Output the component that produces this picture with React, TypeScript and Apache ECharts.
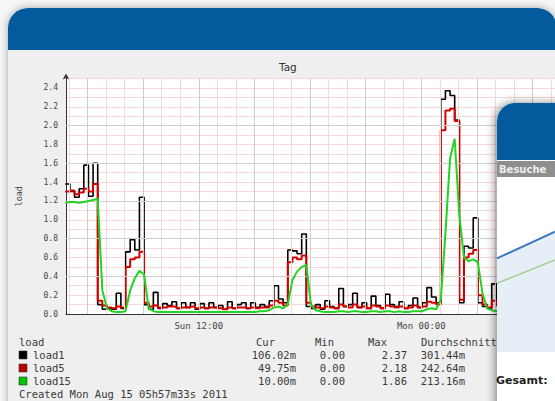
import React, { useEffect, useRef } from 'react';
import * as echarts from 'echarts';

// time sampling of the munin "Tag" graph (hours since Sunday 00:00)
const startHour = 4.8;
const stepHours = 0.25;

const load1 = [
  1.38, 1.30, 1.24, 1.33, 1.58, 1.25, 1.60, 0.10, 0.05, 0.06,
  0.05, 0.22, 0.06, 0.66, 0.79, 0.68, 1.24, 0.10, 0.05, 0.23,
  0.06, 0.11, 0.09, 0.13, 0.06, 0.12, 0.07, 0.12, 0.05, 0.11,
  0.06, 0.12, 0.07, 0.09, 0.05, 0.13, 0.06, 0.10, 0.12, 0.06,
  0.12, 0.07, 0.10, 0.08, 0.14, 0.30, 0.16, 0.12, 0.68, 0.67,
  0.64, 0.85, 0.08, 0.06, 0.10, 0.05, 0.14, 0.08, 0.06, 0.27,
  0.08, 0.10, 0.22, 0.07, 0.12, 0.06, 0.19, 0.09, 0.06, 0.21,
  0.10, 0.08, 0.13, 0.06, 0.09, 0.17, 0.07, 0.12, 0.28, 0.18,
  0.12, 2.28, 2.37, 2.32, 2.06, 0.12, 0.72, 0.70, 1.02, 0.12,
  0.08, 0.06, 0.32, 0.10, 0.08, 0.12, 0.06,
];

const load5 = [
  1.30, 1.31, 1.27, 1.29, 1.33, 1.30, 1.38, 0.14, 0.09, 0.07,
  0.06, 0.08, 0.07, 0.50, 0.58, 0.60, 0.66, 0.12, 0.08, 0.09,
  0.07, 0.07, 0.08, 0.08, 0.06, 0.07, 0.07, 0.08, 0.06, 0.07,
  0.06, 0.07, 0.07, 0.06, 0.05, 0.07, 0.06, 0.07, 0.07, 0.06,
  0.07, 0.06, 0.07, 0.07, 0.09, 0.14, 0.12, 0.09, 0.55, 0.60,
  0.58, 0.62, 0.12, 0.08, 0.07, 0.06, 0.08, 0.07, 0.06, 0.10,
  0.08, 0.07, 0.10, 0.07, 0.08, 0.06, 0.09, 0.08, 0.06, 0.09,
  0.08, 0.07, 0.08, 0.06, 0.07, 0.09, 0.07, 0.08, 0.13, 0.12,
  0.10, 1.95, 2.16, 2.18, 2.05, 0.15, 0.60, 0.64, 0.68, 0.20,
  0.10, 0.07, 0.14, 0.09, 0.07, 0.08, 0.06,
];

const load15 = [
  1.18, 1.19, 1.19, 1.18, 1.19, 1.20, 1.21, 1.22, 0.25, 0.06,
  0.03, 0.02, 0.02, 0.03, 0.25, 0.38, 0.46, 0.42, 0.06, 0.03,
  0.02, 0.02, 0.02, 0.02, 0.02, 0.02, 0.02, 0.02, 0.02, 0.02,
  0.02, 0.02, 0.02, 0.02, 0.02, 0.02, 0.02, 0.02, 0.02, 0.02,
  0.02, 0.02, 0.03, 0.03, 0.04, 0.07, 0.08, 0.06, 0.10, 0.36,
  0.45, 0.50, 0.52, 0.10, 0.04, 0.03, 0.02, 0.02, 0.02, 0.03,
  0.03, 0.02, 0.03, 0.03, 0.02, 0.02, 0.03, 0.03, 0.02, 0.03,
  0.03, 0.02, 0.03, 0.02, 0.02, 0.03, 0.03, 0.03, 0.05, 0.06,
  0.05, 0.15, 0.85, 1.65, 1.86, 1.05, 0.60, 0.56, 0.58, 0.55,
  0.22, 0.06, 0.04, 0.03, 0.03, 0.02, 0.02,
];

const xMin = 4.84;
const xMax = 31.21;
const xTickValues = [12, 24];
const xTickLabels = ['Sun 12:00', 'Mon 00:00'];
const hourLines = [5, 6, 7, 8, 9, 10, 11, 12, 13, 14, 15, 16, 17, 18, 19, 20, 21, 22, 23, 24, 25, 26, 27, 28, 29, 30, 31];
const majorHourLines = [6, 9, 12, 15, 18, 21, 24, 27, 30];
const majorLoadLines = [0.4, 0.8, 1.2, 1.6, 2.0];

const legendNames = ['load1', 'load5', 'load15'];
const legendColors = ['#000000', '#b80000', '#00c400'];
const curValues = ['106.02m', '49.75m', '10.00m'];
const minValues = ['0.00', '0.00', '0.00'];
const maxValues = ['2.37', '2.18', '1.86'];
const avgValues = ['301.44m', '242.64m', '213.16m'];
const createdText = 'Created Mon Aug 15 05h57m33s 2011';

const miniX = [0, 1];
const miniBlue = [57.8, 74.3];
const miniGreen = [42.4, 56.8];

const toPairs = (arr: number[]) => arr.map((v, i) => [startHour + i * stepHours, v]);

const MONO = '"DejaVu Sans Mono", monospace';
const SANS = '"DejaVu Sans", sans-serif';

export default function App() {
  const ref = useRef<HTMLDivElement>(null);

  useEffect(() => {
    if (!ref.current) return;
    const chart = echarts.init(ref.current, undefined, { renderer: 'svg' });

    const rowY = [355, 368, 381];
    const legendGraphics: any[] = [];
    const txt = (text: string, x: number, y: number, align: string, extra: any = {}) => ({
      type: 'text',
      z: 5,
      style: {
        text,
        x,
        y,
        font: `10.5px ${MONO}`,
        fill: '#3a3a3a',
        textAlign: align,
        textVerticalAlign: 'middle',
        ...extra,
      },
    });
    legendGraphics.push(txt('load', 19, 342, 'left'));
    legendGraphics.push(txt('Cur', 256, 342, 'left'));
    legendGraphics.push(txt('Min', 315, 342, 'left'));
    legendGraphics.push(txt('Max', 368, 342, 'left'));
    legendGraphics.push(txt('Durchschnitt', 421, 342, 'left'));
    legendNames.forEach((n, k) => {
      legendGraphics.push({
        type: 'rect',
        z: 5,
        shape: { x: 19, y: rowY[k] - 4, width: 8, height: 8 },
        style: { fill: legendColors[k], stroke: '#333', lineWidth: 0.6 },
      });
      legendGraphics.push(txt(n, 33, rowY[k], 'left'));
      legendGraphics.push(txt(curValues[k], 296, rowY[k], 'right'));
      legendGraphics.push(txt(minValues[k], 345, rowY[k], 'right'));
      legendGraphics.push(txt(maxValues[k], 407, rowY[k], 'right'));
      legendGraphics.push(txt(avgValues[k], 465, rowY[k], 'right'));
    });
    legendGraphics.push(txt(createdText, 19, 394, 'left'));

    const gridLineData: any[] = [
      ...hourLines.map((h) => ({ xAxis: h, lineStyle: { color: '#f6d8d8', width: 1, type: 'solid' } })),
      ...majorHourLines.map((h) => ({ xAxis: h, lineStyle: { color: '#cdcdcd', width: 1, type: 'solid' } })),
      ...majorLoadLines.map((v) => ({ yAxis: v, lineStyle: { color: '#cfcfcf', width: 1, type: 'solid' } })),
    ];

    chart.setOption({
      animation: false,
      backgroundColor: '#f7f7f7',
      title: {
        text: 'Tag',
        left: 274,
        top: 56,
        textStyle: { fontFamily: SANS, fontSize: 10.5, fontWeight: 'normal', color: '#333' },
      },
      graphic: [
        {
          type: 'rect',
          z: -9,
          shape: { x: 8, y: 8, width: 549, height: 430, r: [20, 20, 0, 0] },
          style: { fill: '#efefef', shadowBlur: 8, shadowColor: 'rgba(0,0,0,0.35)' },
        },
        {
          type: 'rect',
          z: -8,
          shape: { x: 8, y: 8, width: 549, height: 42, r: [20, 20, 0, 0] },
          style: { fill: '#035a9c' },
        },
        ...legendGraphics,
        {
          type: 'rect',
          z: 10,
          shape: { x: 497, y: 103, width: 80, height: 330, r: [18, 0, 0, 0] },
          style: { fill: '#ffffff', shadowBlur: 10, shadowOffsetX: -2, shadowColor: 'rgba(0,0,0,0.45)' },
        },
        {
          type: 'rect',
          z: 11,
          shape: { x: 497, y: 103, width: 80, height: 57, r: [18, 0, 0, 0] },
          style: { fill: '#035a9c' },
        },
        {
          type: 'rect',
          z: 11,
          shape: { x: 497, y: 161, width: 80, height: 16 },
          style: { fill: '#8e8e8e' },
        },
        {
          type: 'text',
          z: 12,
          style: {
            text: 'Besuche',
            x: 499,
            y: 169,
            font: `bold 10px ${SANS}`,
            fill: '#eeeeee',
            textAlign: 'left',
            textVerticalAlign: 'middle',
          },
        },
        {
          type: 'text',
          z: 12,
          style: {
            text: 'Gesamt:',
            x: 496,
            y: 380,
            font: `bold 11px ${SANS}`,
            fill: '#222',
            textAlign: 'left',
            textVerticalAlign: 'middle',
          },
        },
      ],
      grid: [
        { left: 66, top: 78.5, width: 490, height: 235.5, show: true, backgroundColor: '#ffffff', borderWidth: 0 },
        { left: 497, top: 190, width: 58, height: 162, show: false },
      ],
      xAxis: [
        {
          type: 'value',
          gridIndex: 0,
          min: xMin,
          max: xMax,
          splitLine: { show: false },
          axisTick: { show: false },
          axisLine: { show: true, onZero: false, lineStyle: { color: '#333', width: 1 } },
          axisLabel: {
            customValues: xTickValues,
            formatter: (v: number) => {
              const k = xTickValues.indexOf(Math.round(v));
              return k >= 0 ? xTickLabels[k] : '';
            },
            fontFamily: MONO,
            fontSize: 9,
            color: '#444',
            margin: 7,
          },
        },
        { type: 'value', gridIndex: 1, min: 0, max: 1, show: false },
      ],
      yAxis: [
        {
          type: 'value',
          gridIndex: 0,
          min: 0,
          max: 2.5,
          interval: 0.1,
          name: 'load',
          nameLocation: 'middle',
          nameGap: 43,
          nameRotate: 90,
          nameTextStyle: { fontFamily: MONO, fontSize: 8.5, color: '#444' },
          splitLine: { show: true, lineStyle: { color: '#f6d8d8', width: 1 } },
          axisLine: {
            show: true,
            lineStyle: { color: '#333', width: 1 },
            symbol: ['none', 'arrow'],
            symbolSize: [5, 6],
            symbolOffset: [0, 5],
          },
          axisTick: { show: false },
          axisLabel: {
            formatter: (v: number) => {
              const t = Math.round(v * 10);
              return t % 2 === 0 && t <= 24 ? (t / 10).toFixed(1) : '';
            },
            fontFamily: MONO,
            fontSize: 8,
            color: '#444',
            margin: 8,
          },
        },
        { type: 'value', gridIndex: 1, min: 0, max: 100, show: false },
      ],
      series: [
        {
          type: 'line',
          name: 'grid',
          xAxisIndex: 0,
          yAxisIndex: 0,
          data: [],
          silent: true,
          z: 1,
          markLine: { silent: true, symbol: ['none', 'none'], label: { show: false }, data: gridLineData },
        },
        {
          type: 'line',
          name: 'load1',
          data: toPairs(load1),
          step: 'end',
          showSymbol: false,
          z: 3,
          lineStyle: { color: '#000000', width: 1.6 },
        },
        {
          type: 'line',
          name: 'load5',
          data: toPairs(load5),
          step: 'end',
          showSymbol: false,
          z: 4,
          lineStyle: { color: '#d40000', width: 2 },
        },
        {
          type: 'line',
          name: 'load15',
          data: toPairs(load15),
          showSymbol: false,
          z: 5,
          lineStyle: { color: '#22d422', width: 2 },
        },
        {
          type: 'line',
          name: 'Besuche',
          xAxisIndex: 1,
          yAxisIndex: 1,
          data: miniX.map((x, i) => [x, miniBlue[i]]),
          showSymbol: false,
          z: 20,
          lineStyle: { color: '#3b78bf', width: 2 },
          areaStyle: { color: '#e6eef8', opacity: 1 },
        },
        {
          type: 'line',
          name: 'Besucher',
          xAxisIndex: 1,
          yAxisIndex: 1,
          data: miniX.map((x, i) => [x, miniGreen[i]]),
          showSymbol: false,
          z: 21,
          lineStyle: { color: '#a8d096', width: 1.5 },
        },
      ],
    });

    return () => chart.dispose();
  }, []);

  return <div ref={ref} style={{ position: 'fixed', left: 0, top: 0, width: 555, height: 401 }} />;
}
